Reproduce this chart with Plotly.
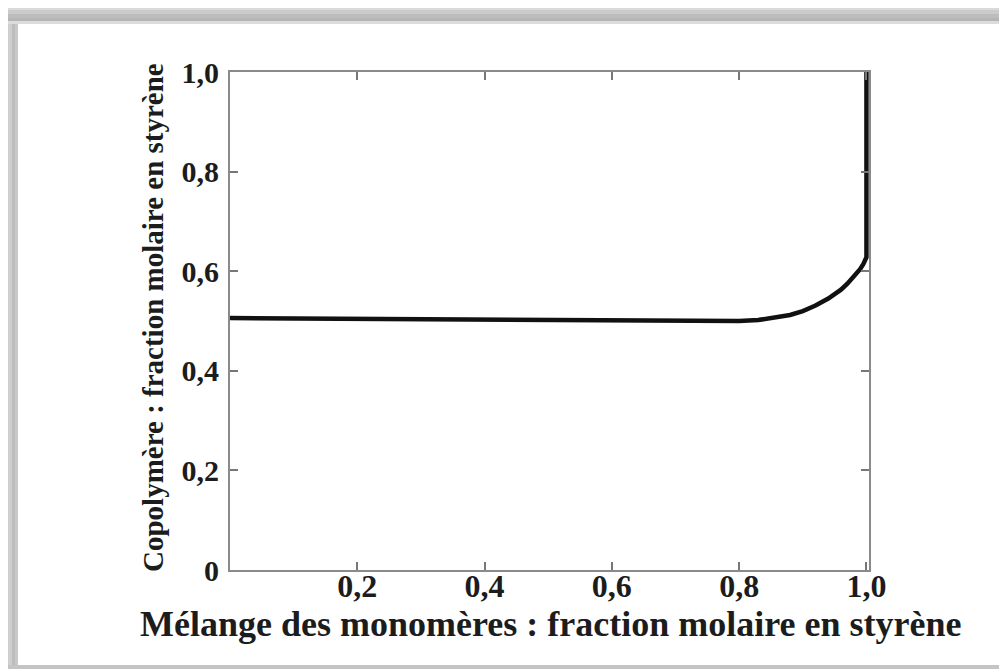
import plotly.graph_objects as go

# ---- data ----
monomer_fraction = [0.0, 0.1, 0.2, 0.3, 0.4, 0.5, 0.6, 0.7, 0.8, 0.83, 0.86, 0.88,
                    0.90, 0.92, 0.94, 0.95, 0.96, 0.97, 0.98, 0.99, 0.995, 1.0, 1.0]
copolymer_fraction = [0.506, 0.505, 0.504, 0.503, 0.502, 0.501, 0.500, 0.500, 0.500, 0.502,
                      0.507, 0.512, 0.520, 0.531, 0.545, 0.553, 0.563, 0.575, 0.589, 0.604,
                      0.614, 0.628, 1.0]

x_tickvals = [0.2, 0.4, 0.6, 0.8, 1.0]
x_ticktext = ["0,2", "0,4", "0,6", "0,8", "1,0"]
y_tickvals = [0.0, 0.2, 0.4, 0.6, 0.8, 1.0]
y_ticktext = ["0", "0,2", "0,4", "0,6", "0,8", "1,0"]

x_title = "Mélange des monomères : fraction molaire en styrène"
y_title = "Copolymère : fraction molaire en styrène"

# ---- layout geometry (screen pixels; page body has an 8px margin) ----
OFF = 8
SW, SH = 1007, 669
W, H = SW - OFF, SH - OFF
PL, PR, PT, PB = 230, 869, 72, 570          # plot edges in screen pixels
L, R, T, B = PL - OFF, SW - PR, PT - OFF, SH - PB
PW, PH = PR - PL, PB - PT


def px(xs):
    return (xs - PL) / PW


def py(ys):
    return (PB - ys) / PH


FONT = "Liberation Serif"
TXT = "#1c1c1c"

fig = go.Figure()
fig.add_trace(go.Scatter(
    x=monomer_fraction, y=copolymer_fraction, mode="lines",
    line=dict(color="#111111", width=4.5), hoverinfo="skip", showlegend=False,
))

axis_common = dict(
    showline=True, linecolor="#8a8a8a", linewidth=2, mirror="ticks",
    ticks="inside", ticklen=8, tickwidth=1.5, tickcolor="#777777",
    showgrid=False, zeroline=False,
)

fig.update_xaxes(range=[0, 1.004], tickmode="array", tickvals=x_tickvals,
                 ticktext=x_ticktext, ticklabelstandoff=-13,
                 tickfont=dict(family=FONT, size=32, color=TXT, weight="bold"),
                 **axis_common)
fig.update_yaxes(range=[0, 1.0], tickmode="array", tickvals=y_tickvals,
                 ticktext=y_ticktext, ticklabelstandoff=3,
                 tickfont=dict(family=FONT, size=30, color=TXT, weight="bold"),
                 **axis_common)

# frame / shadow decoration of the picture
shapes = []


def rect(x0, x1, y0, y1, c):
    shapes.append(dict(type="rect", xref="paper", yref="paper", layer="below",
                       x0=px(x0), x1=px(x1), y0=py(y1), y1=py(y0),
                       fillcolor=c, line=dict(width=0)))


# top shadow band
for y0, y1, c in [(0, 5, "#e6e6e6"), (5, 10, "#dadada"), (10, 14, "#cbcbcb"),
                  (14, 18, "#bdbdbd"), (18, 21, "#b5b5b5"), (21, 24, "#dcdcdc")]:
    rect(0, SW, y0, y1, c)
# left shadow band
for x0, x1, c in [(0, 4, "#ececec"), (4, 8, "#dedede"), (8, 12, "#cecece"),
                  (12, 15, "#bdbdbd"), (15, 18, "#c8c8c8")]:
    rect(x0, x1, 24, SH, c)
# right edge and bottom edge
rect(1001, SW, 24, SH, "#e8e8e8")
rect(0, SW, 665, SH, "#c4c4c4")
# white card
rect(18, 1001, 24, 665, "#ffffff")

annotations = [
    dict(text=x_title, xref="paper", yref="paper", x=px(550), y=py(624),
         xanchor="center", yanchor="middle", showarrow=False,
         font=dict(family=FONT, size=36, color=TXT, weight="bold")),
    dict(text=y_title, xref="paper", yref="paper", x=px(153), y=py(318),
         xanchor="center", yanchor="middle", showarrow=False, textangle=-90,
         font=dict(family=FONT, size=29, color=TXT, weight="bold")),
]

fig.update_layout(
    width=W, height=H, autosize=False,
    margin=dict(l=L, r=R, t=T, b=B, pad=0),
    paper_bgcolor="#f0f0f0", plot_bgcolor="#ffffff",
    shapes=shapes, annotations=annotations,
    showlegend=False,
)

fig.write_html("out.html")
